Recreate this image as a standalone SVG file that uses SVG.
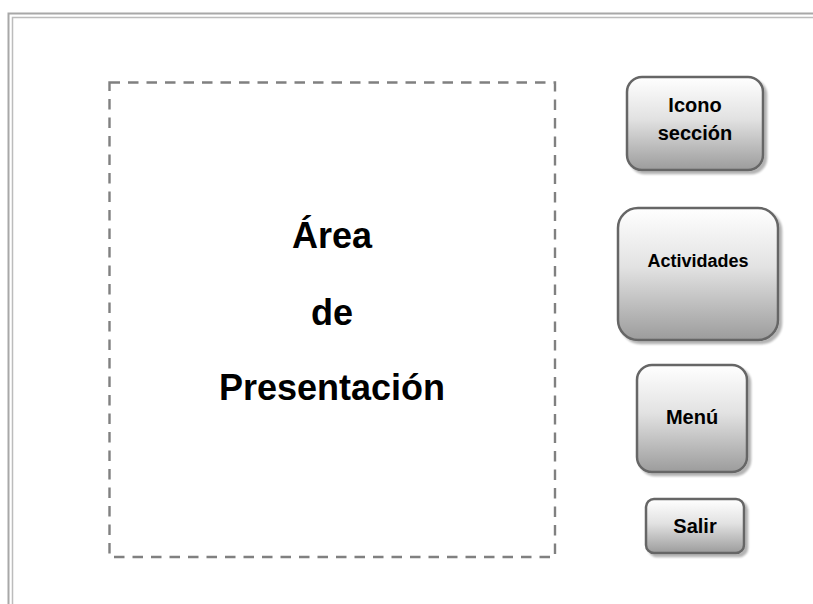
<svg xmlns="http://www.w3.org/2000/svg" width="813" height="604" viewBox="0 0 813 604">
  <defs>
    <linearGradient id="btnGrad" x1="0" y1="0" x2="0" y2="1">
      <stop offset="0" stop-color="#ffffff"/>
      <stop offset="0.45" stop-color="#e2e2e2"/>
      <stop offset="1" stop-color="#9c9c9c"/>
    </linearGradient>
    <filter id="shadow" x="-10%" y="-10%" width="130%" height="130%">
      <feGaussianBlur in="SourceAlpha" stdDeviation="1.2"/>
      <feOffset dx="3" dy="3" result="b"/>
      <feComponentTransfer><feFuncA type="linear" slope="0.3"/></feComponentTransfer>
      <feMerge><feMergeNode/><feMergeNode in="SourceGraphic"/></feMerge>
    </filter>
  </defs>
  <style>
    .btn { fill: url(#btnGrad); stroke: #666666; stroke-width: 2.5; filter: url(#shadow); }
    .btxt { font-family: "Liberation Sans", Arial, sans-serif; font-weight: bold; fill: #000; text-anchor: middle; }
    .main { font-family: "Liberation Sans", Arial, sans-serif; font-weight: bold; font-size: 36px; fill: #000; text-anchor: middle; }
    .frameOuter { fill: none; stroke: #a8a8a8; stroke-width: 2; }
    .frameInner { fill: none; stroke: #bcbcbc; stroke-width: 1.5; }
  </style>
  <rect width="813" height="604" fill="#ffffff"/>
  <g id="frame">
    <path class="frameOuter" d="M813,13.5 H8.5 V604"/>
    <path class="frameInner" d="M813,17.5 H12.5 V604"/>
  </g>
  <g id="area">
    <rect x="109.5" y="82.5" width="445.5" height="474.5" fill="none" stroke="#808080" stroke-width="2.4" stroke-dasharray="10.5 8"/>
    <text class="main" x="332" y="248">Área</text>
    <text class="main" x="332" y="325">de</text>
    <text class="main" x="332" y="400">Presentación</text>
  </g>
  <g id="icono">
    <rect class="btn" x="627" y="77" width="136" height="93" rx="15"/>
    <text class="btxt" x="695" y="112" font-size="20">Icono</text>
    <text class="btxt" x="695" y="140" font-size="20">sección</text>
  </g>
  <g id="actividades">
    <rect class="btn" x="618" y="208" width="160" height="132" rx="20"/>
    <text class="btxt" x="698" y="267" font-size="18">Actividades</text>
  </g>
  <g id="menu">
    <rect class="btn" x="637" y="365" width="110" height="107" rx="15"/>
    <text class="btxt" x="692" y="424" font-size="20">Menú</text>
  </g>
  <g id="salir">
    <rect class="btn" x="646" y="499" width="98" height="54" rx="8"/>
    <text class="btxt" x="695" y="533" font-size="20">Salir</text>
  </g>
  <g id="connectors"/>
</svg>
